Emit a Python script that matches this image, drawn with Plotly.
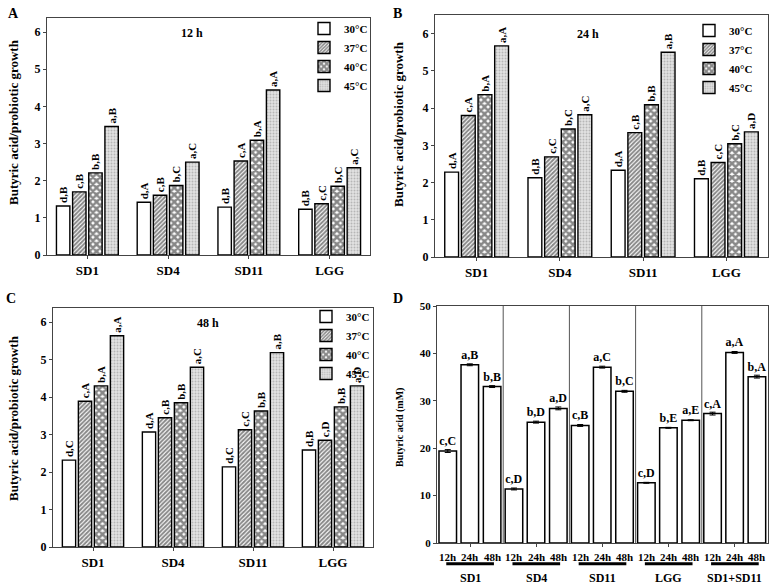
"""
Butyric acid production by probiotic strains at different temperatures
"""

import plotly.graph_objects as go

strains = ["SD1", "SD4", "SD11", "LGG"]
temps = ["30°C", "37°C", "40°C", "45°C"]

# Butyric acid / probiotic growth, one list per temperature (SD1, SD4, SD11, LGG)
a_30 = [1.32, 1.42, 1.29, 1.23]
a_37 = [1.70, 1.61, 2.53, 1.38]
a_40 = [2.21, 1.87, 3.09, 1.85]
a_45 = [3.46, 2.50, 4.44, 2.35]
a_lab_30 = ["d,B", "d,A", "d,B", "d,B"]
a_lab_37 = ["c,B", "c,B", "c,A", "c,C"]
a_lab_40 = ["b,B", "b,C", "b,A", "b,C"]
a_lab_45 = ["a,B", "a,C", "a,A", "a,C"]

b_30 = [2.28, 2.13, 2.33, 2.10]
b_37 = [3.80, 2.69, 3.34, 2.54]
b_40 = [4.36, 3.44, 4.09, 3.04]
b_45 = [5.67, 3.82, 5.50, 3.36]
b_lab_30 = ["d,A", "d,B", "d,A", "d,B"]
b_lab_37 = ["c,A", "c,C", "c,B", "c,C"]
b_lab_40 = ["b,A", "b,C", "b,B", "b,C"]
b_lab_45 = ["a,A", "a,C", "a,B", "a,D"]

c_30 = [2.32, 3.07, 2.14, 2.59]
c_37 = [3.89, 3.45, 3.13, 2.85]
c_40 = [4.30, 3.85, 3.63, 3.74]
c_45 = [5.64, 4.80, 5.19, 4.30]
c_lab_30 = ["d,C", "d,A", "d,C", "d,B"]
c_lab_37 = ["c,A", "c,B", "c,C", "c,D"]
c_lab_40 = ["b,A", "b,B", "b,B", "b,B"]
c_lab_45 = ["a,A", "a,C", "a,B", "a,D"]

# Panel D: butyric acid (mM) per strain at 12, 24 and 48 h
d_groups = ["SD1", "SD4", "SD11", "LGG", "SD1+SD11"]
d_times = ["12h", "24h", "48h"]
d_12 = [19.4, 11.4, 24.8, 12.7, 27.3]
d_24 = [37.6, 25.5, 37.1, 24.3, 40.2]
d_48 = [33.0, 28.4, 32.0, 25.9, 35.1]
d_err_12 = [0.3, 0.2, 0.2, 0.1, 0.3]
d_err_24 = [0.2, 0.2, 0.2, 0.1, 0.2]
d_err_48 = [0.2, 0.3, 0.2, 0.1, 0.3]
d_lab_12 = ["c,C", "c,D", "c,B", "c,D", "c,A"]
d_lab_24 = ["a,B", "b,D", "a,C", "b,E", "a,A"]
d_lab_48 = ["b,B", "a,D", "b,C", "a,E", "b,A"]

FONT = "Liberation Serif"
W, H = 774, 586

patterns = [
    dict(shape=""),
    dict(shape="/", fgcolor="#111", bgcolor="white", size=3, solidity=0.65),
    dict(shape="x", fgcolor="#111", bgcolor="white", size=5, solidity=0.75),
    dict(shape=".", fgcolor="#8a8a8a", bgcolor="#e2e2e2", size=3, solidity=0.35),
]


def bold(size):
    return dict(family=FONT, size=size, color="black", weight="bold")


fig = go.Figure()

panels = [
    ("x", "y", "legend", [a_30, a_37, a_40, a_45], [a_lab_30, a_lab_37, a_lab_40, a_lab_45]),
    ("x2", "y2", "legend2", [b_30, b_37, b_40, b_45], [b_lab_30, b_lab_37, b_lab_40, b_lab_45]),
    ("x3", "y3", "legend3", [c_30, c_37, c_40, c_45], [c_lab_30, c_lab_37, c_lab_40, c_lab_45]),
]

for xa, ya, lg, series, labels in panels:
    for temp, vals, labs, pat in zip(temps, series, labels, patterns):
        fig.add_trace(go.Bar(
            x=strains, y=vals, name=temp,
            xaxis=xa, yaxis=ya, legend=lg,
            marker=dict(color="white", pattern=pat,
                        line=dict(color="black", width=1.4)),
            text=labs, textposition="outside", textangle=-90,
            constraintext="none", cliponaxis=False,
            textfont=bold(11),
        ))

# panel D: explicit widths/offsets so it can differ from the grouped panels
D_WIDTH = 0.265
d_offsets = [-0.47, -0.137, 0.2]
for t, vals, errs, labs, off in zip(d_times, [d_12, d_24, d_48],
                                    [d_err_12, d_err_24, d_err_48],
                                    [d_lab_12, d_lab_24, d_lab_48], d_offsets):
    fig.add_trace(go.Bar(
        x=d_groups, y=vals, name=t, showlegend=False,
        xaxis="x4", yaxis="y4", width=D_WIDTH, offset=off,
        marker=dict(color="white", line=dict(color="black", width=1.5)),
        error_y=dict(type="data", array=errs, color="black", thickness=1, width=3),
        text=labs, textposition="outside", constraintext="none", cliponaxis=False,
        textfont=bold(12),
    ))

axis_common = dict(showline=True, linecolor="#444", linewidth=1, mirror=True,
                   showgrid=False, zeroline=False, ticks="outside", ticklen=3,
                   tickcolor="#444", automargin=False)

fig.update_layout(
    width=W, height=H,
    margin=dict(l=0, r=0, t=0, b=0),
    paper_bgcolor="white", plot_bgcolor="white",
    barmode="group", bargap=0.2, bargroupgap=0.17,
    font=dict(family=FONT, color="black"),
    xaxis=dict(domain=[47 / W, 370 / W], anchor="y", tickfont=bold(13), **axis_common),
    yaxis=dict(domain=[1 - 255 / H, 1 - 18 / H], anchor="x", range=[0, 6.38], dtick=1,
               tickfont=bold(12), **axis_common),
    xaxis2=dict(domain=[435 / W, 768 / W], anchor="y2", tickfont=bold(13), **axis_common),
    yaxis2=dict(domain=[1 - 257 / H, 1 - 15 / H], anchor="x2", range=[0, 6.5], dtick=1,
                tickfont=bold(12), **axis_common),
    xaxis3=dict(domain=[53 / W, 373 / W], anchor="y3", tickfont=bold(13), **axis_common),
    yaxis3=dict(domain=[1 - 547 / H, 1 - 308 / H], anchor="x3", range=[0, 6.38], dtick=1,
                tickfont=bold(12), **axis_common),
    xaxis4=dict(domain=[437 / W, 768 / W], anchor="y4", showticklabels=False,
                range=[-0.5, 4.5], **axis_common),
    yaxis4=dict(domain=[1 - 543 / H, 1 - 306 / H], anchor="x4", range=[0, 50], dtick=10,
                tickfont=bold(11), **axis_common),
)

legend_style = dict(bgcolor="rgba(0,0,0,0)", xanchor="right", yanchor="top",
                    font=bold(11), itemwidth=30, tracegroupgap=0)
fig.update_layout(
    legend=dict(x=373 / W, y=1 - 14 / H, **legend_style),
    legend2=dict(x=758 / W, y=1 - 16 / H, **legend_style),
    legend3=dict(x=375 / W, y=1 - 302 / H, **legend_style),
)

# y-axis titles
for txt, x, y, size in [("Butyric acid/probiotic growth", 13, 122, 13),
                        ("Butyric acid/probiotic growth", 398, 124, 13),
                        ("Butyric acid/probiotic growth", 13, 418, 13),
                        ("Butyric acid (mM)", 400, 427, 10)]:
    fig.add_annotation(text=txt, xref="paper", yref="paper", x=x / W, y=1 - y / H,
                       xanchor="center", yanchor="middle",
                       textangle=-90, showarrow=False, font=bold(size))

# panel letters and time titles
for txt, x, y in [("A", 6, 4), ("B", 391, 4), ("C", 4, 289), ("D", 391, 289)]:
    fig.add_annotation(text=txt, xref="paper", yref="paper", x=x / W, y=1 - y / H,
                       xanchor="left", yanchor="top", showarrow=False, font=bold(14))
for txt, x, y in [("12 h", 192, 33), ("24 h", 588, 34), ("48 h", 208, 323)]:
    fig.add_annotation(text=txt, xref="paper", yref="paper", x=x / W, y=1 - y / H,
                       xanchor="center", yanchor="middle",
                       showarrow=False, font=bold(12))

# panel D: time labels under each bar, group underlines, group names, separators
cat_px = (768 - 437) / len(d_groups)
for i, g in enumerate(d_groups):
    for t, off in zip(d_times, d_offsets):
        fig.add_annotation(text=t, xref="x4", yref="y4 domain", x=g, y=0,
                           xshift=(off + D_WIDTH / 2) * cat_px,
                           yanchor="top", yshift=-6, showarrow=False, font=bold(11))
    fig.add_annotation(text=g, xref="x4", yref="y4 domain", x=g, y=0,
                       yanchor="top", yshift=-26, showarrow=False, font=bold(12))
    fig.add_shape(type="line", xref="x4", yref="y4 domain", x0=i - 0.36, x1=i + 0.36,
                  y0=-0.088, y1=-0.088, line=dict(color="black", width=3))
    if i < len(d_groups) - 1:
        fig.add_shape(type="line", xref="x4", yref="y4 domain", x0=i + 0.5, x1=i + 0.5,
                      y0=0, y1=1, line=dict(color="#555", width=1))

# drop the default page margin so the figure sits at the window's corner
fig.write_html("out.html", config={"displayModeBar": False},
               post_script="document.body.style.margin='0px';")
